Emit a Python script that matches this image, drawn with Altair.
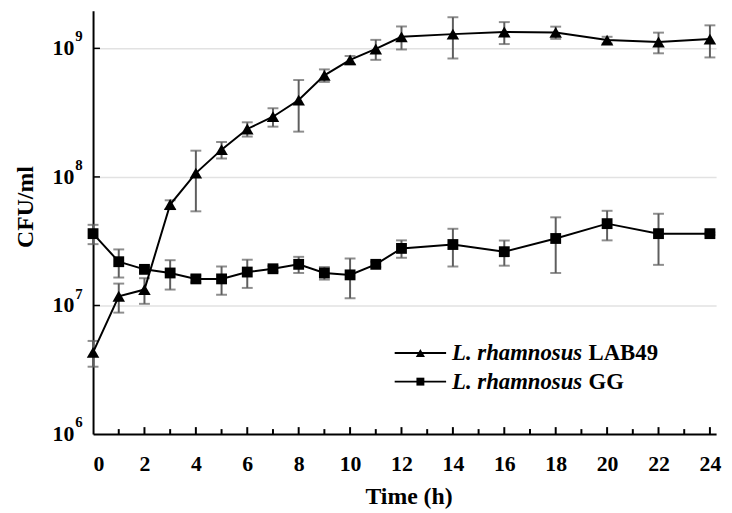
import altair as alt
import pandas as pd

# ---------------- data ----------------
hours = [0, 1, 2, 3, 4, 5, 6, 7, 8, 9, 10, 11, 12, 14, 16, 18, 20, 22, 24]

lab49_cfu = [4.32e6, 1.18e7, 1.33e7, 6.10e7, 1.07e8, 1.63e8, 2.36e8, 2.94e8, 3.96e8,
             6.17e8, 8.13e8, 9.89e8, 1.23e9, 1.29e9, 1.34e9, 1.33e9, 1.16e9, 1.12e9, 1.18e9]
lab49_sd = [0.98e6, 3.0e6, 3.0e6, 4.8e6, 5.3e7, 2.4e7, 3.0e7, 4.8e7, 1.71e8,
            6.9e7, 6.0e7, 1.75e8, 2.5e8, 4.56e8, 2.6e8, 1.45e8, 7.0e7, 2.05e8, 3.3e8]

gg_cfu = [3.62e7, 2.19e7, 1.91e7, 1.79e7, 1.61e7, 1.61e7, 1.82e7, 1.93e7, 2.09e7,
          1.79e7, 1.73e7, 2.09e7, 2.78e7, 2.98e7, 2.62e7, 3.32e7, 4.33e7, 3.62e7, 3.62e7]
gg_sd = [6.2e6, 5.4e6, 1.0e6, 4.6e6, 1.0e6, 4.0e6, 4.5e6, 1.0e6, 3.0e6,
         2.0e6, 5.9e6, 1.0e6, 4.3e6, 9.7e6, 5.8e6, 1.53e7, 1.12e7, 1.55e7, 0.8e6]

strains = ["LAB49", "GG"]
genus_label = "L. rhamnosus"

x_tick_values = list(range(0, 25, 2))
x_minor_values = list(range(1, 25, 2))
y_grid_values = [1e7, 1e8, 1e9]
y_label_values = [1e6, 1e7, 1e8, 1e9]
y_label_base = ["10", "10", "10", "10"]
y_label_exp = ["6", "7", "8", "9"]

x_title = "Time (h)"
y_title = "CFU/ml"

# ---------------- tables ----------------
df = pd.concat([
    pd.DataFrame({"hour": hours, "cfu": lab49_cfu, "sd": lab49_sd, "strain": strains[0]}),
    pd.DataFrame({"hour": hours, "cfu": gg_cfu, "sd": gg_sd, "strain": strains[1]}),
], ignore_index=True)
df["lo"] = df["cfu"] - df["sd"]
df["hi"] = df["cfu"] + df["sd"]

ticks_major = pd.DataFrame({"hour": x_tick_values[1:]})
ticks_minor = pd.DataFrame({"hour": x_minor_values})
ygrid = pd.DataFrame({"v": y_grid_values})
ylab = pd.DataFrame({"v": y_label_values, "base": y_label_base, "exp": y_label_exp})

FONT = "Liberation Serif"
W, H = 630, 428
ERR = "#5e5e5e"

xs = alt.Scale(domain=[0, 24.24], nice=False, zero=False)
ys = alt.Scale(type="log", domain=[1e6, 1.96e9], nice=False)

x_axis = alt.Axis(
    values=x_tick_values, title=x_title, ticks=False, grid=False,
    labelFont=FONT, labelFontSize=22, labelFontWeight="bold", labelColor="black",
    labelPadding=20, domainColor="black", domainWidth=2,
    titleFont=FONT, titleFontSize=24, titleFontWeight="bold", titleColor="black",
    titleX=319, titleY=51, titleAlign="center", titleBaseline="top",
)
y_axis = alt.Axis(
    values=y_grid_values, title=y_title, ticks=False, labels=False, grid=True,
    gridColor="#e2e2e2", gridWidth=1.5, domainColor="black", domainWidth=2,
    titleFont=FONT, titleFontSize=24, titleFontWeight="bold", titleColor="black",
    titleX=-68, titleY=198, titleAngle=270, titleAlign="center", titleBaseline="middle",
)


def X(field="hour:Q"):
    return alt.X(field, scale=xs, axis=x_axis, title=x_title)


def Y(field):
    return alt.Y(field, scale=ys, axis=y_axis, title=y_title)


base = alt.Chart(df)

err_rule = base.mark_rule(color=ERR, strokeWidth=2).encode(
    x=X(), y=Y("lo:Q"), y2="hi:Q",
)
cap_lo = base.mark_tick(color=ERR, orient="horizontal", size=11, thickness=2).encode(
    x=X(), y=Y("lo:Q"),
)
cap_hi = base.mark_tick(color=ERR, orient="horizontal", size=11, thickness=2).encode(
    x=X(), y=Y("hi:Q"),
)

lines = base.mark_line(color="black", strokeWidth=2).encode(
    x=X(), y=Y("cfu:Q"), detail="strain:N",
)

pts_lab = base.transform_filter(alt.datum.strain == strains[0]).mark_point(
    shape="triangle-up", size=160, filled=True, color="black", opacity=1
).encode(x=X(), y=Y("cfu:Q"))
pts_gg = base.transform_filter(alt.datum.strain == strains[1]).mark_point(
    shape="square", size=120, filled=True, color="black", opacity=1
).encode(x=X(), y=Y("cfu:Q"))

# inward ticks
xt_major = alt.Chart(ticks_major).mark_rule(color="black", strokeWidth=2).encode(
    x=X(), y=alt.value(H), y2=alt.value(H - 7)
)
xt_minor = alt.Chart(ticks_minor).mark_rule(color="black", strokeWidth=2).encode(
    x=X(), y=alt.value(H), y2=alt.value(H - 5)
)
yt = alt.Chart(ygrid).mark_rule(color="black", strokeWidth=1.5).encode(
    y=Y("v:Q"), x=alt.value(0), x2=alt.value(7)
)

# y tick labels 10^n
ylab_base = alt.Chart(ylab).mark_text(
    font=FONT, fontSize=22, fontWeight="bold", align="right", baseline="alphabetic",
    dy=7, color="black"
).encode(y=Y("v:Q"), x=alt.value(-19), text="base:N")
ylab_exp = alt.Chart(ylab).mark_text(
    font=FONT, fontSize=15, fontWeight="bold", align="left", baseline="alphabetic",
    dy=-7, color="black"
).encode(y=Y("v:Q"), x=alt.value(-18), text="exp:N")

# manual legend (mixed italic / upright)
leg_df = pd.DataFrame({"strain": strains, "genus": [genus_label] * 2})
legend_layers = []
row_y = [346, 375]
shapes = [("triangle-up", 85), ("square", 64)]
for i, s in enumerate(strains):
    d = alt.Chart(leg_df).transform_filter(alt.datum.strain == s)
    y0 = row_y[i]
    legend_layers.append(d.mark_rule(color="black", strokeWidth=2).encode(
        x=alt.value(305), x2=alt.value(357), y=alt.value(y0)))
    legend_layers.append(d.mark_point(shape=shapes[i][0], size=shapes[i][1], filled=True,
                                      color="black", opacity=1).encode(
        x=alt.value(331), y=alt.value(y0)))
    legend_layers.append(d.mark_text(font=FONT, fontSize=23, fontWeight="bold", fontStyle="italic",
                                     align="left", baseline="middle", color="black").encode(
        x=alt.value(363), y=alt.value(y0), text="genus:N"))
    legend_layers.append(d.mark_text(font=FONT, fontSize=23, fontWeight="bold",
                                     align="left", baseline="middle", color="black").encode(
        x=alt.value(501), y=alt.value(y0), text="strain:N"))

chart = alt.layer(
    err_rule, cap_lo, cap_hi, lines, pts_lab, pts_gg,
    xt_major, xt_minor, yt, ylab_base, ylab_exp, *legend_layers
).properties(
    width=W, height=H,
    padding={"left": 86, "top": 0, "right": 8, "bottom": 75},
    autosize=alt.AutoSizeParams(type="none"),
    background="white",
).configure_view(stroke=None)

chart.save("out.html", embed_options={"renderer": "svg", "actions": False})
